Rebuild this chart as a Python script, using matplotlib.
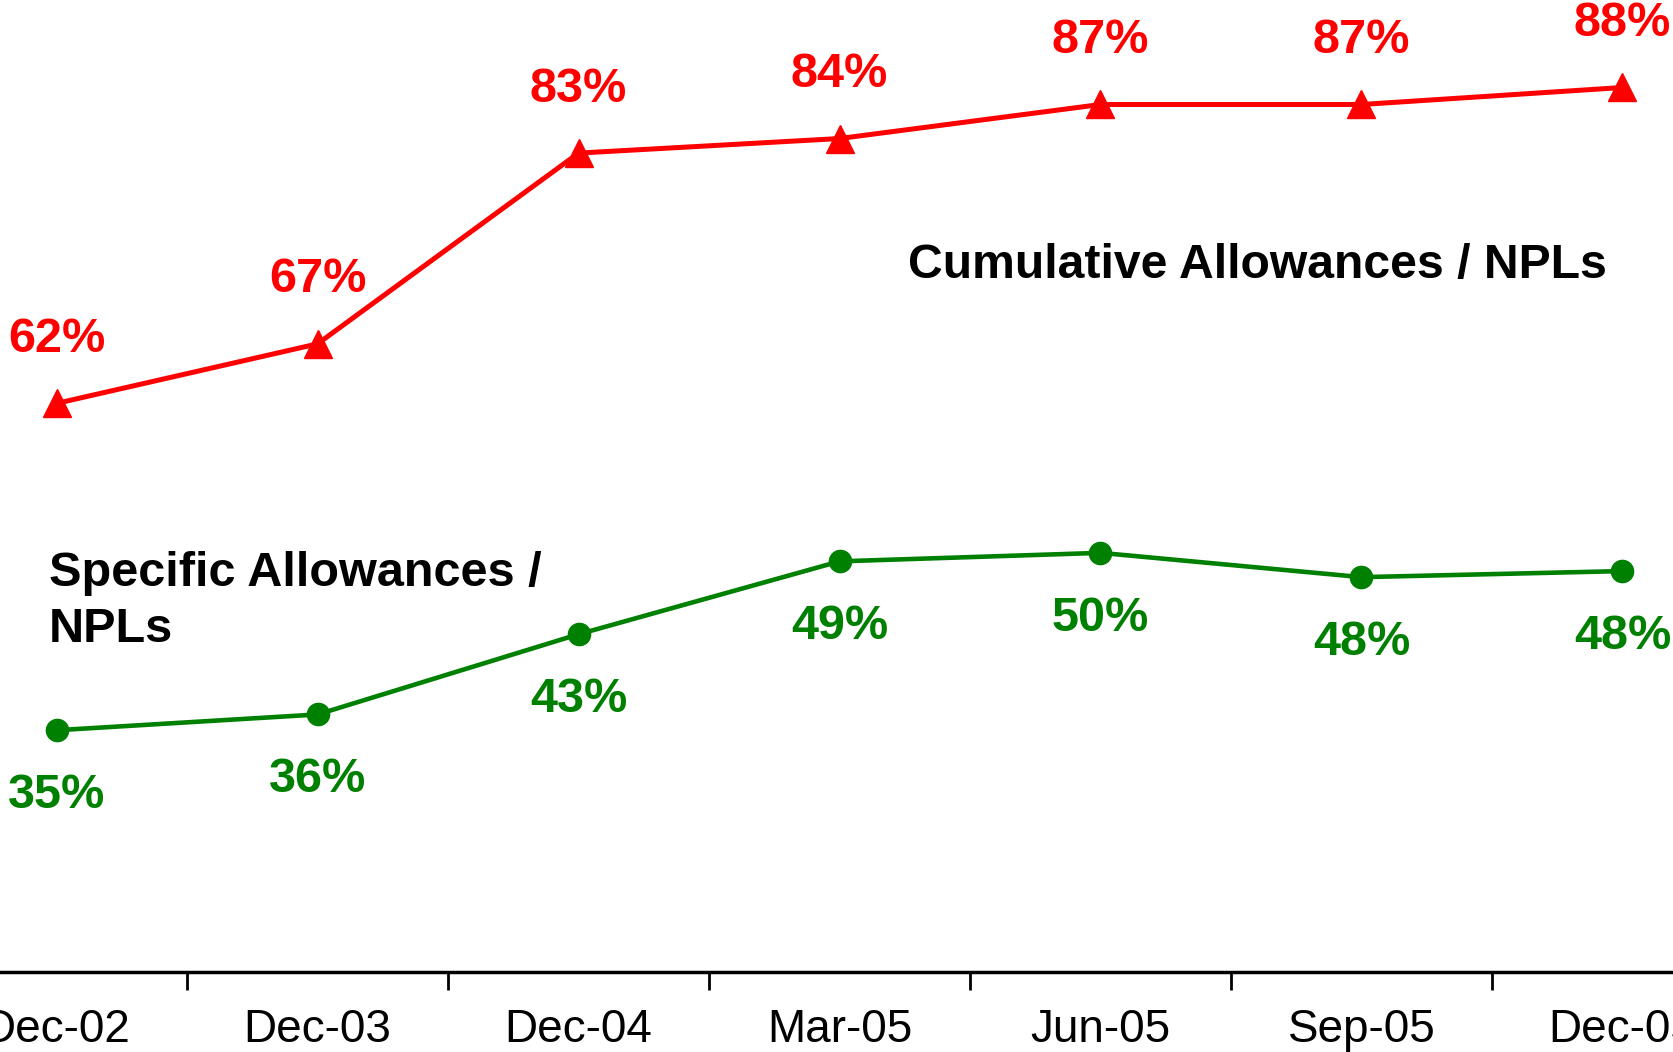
import matplotlib
matplotlib.use("Agg")
import matplotlib.pyplot as plt
from matplotlib.ticker import FixedLocator

categories = ["Dec-02", "Dec-03", "Dec-04", "Mar-05", "Jun-05", "Sep-05", "Dec-05"]
cumulative = [62.0, 66.9, 82.6, 83.8, 86.6, 86.6, 88.0]
specific = [35.1, 36.4, 43.0, 49.0, 49.7, 47.7, 48.2]
cum_label = "Cumulative Allowances / NPLs"
spec_label = "Specific Allowances /\nNPLs"

plt.rcParams['font.family'] = ['Liberation Sans', 'DejaVu Sans']

fig = plt.figure(figsize=(16.73, 10.52), dpi=100)
ax = fig.add_axes([-0.0442, 0.076, 1.092, 0.924])

x = list(range(len(categories)))
red = "#FF0000"
green = "#008000"

ax.plot(x, cumulative, color=red, lw=3.6, marker="^", ms=20, zorder=3, clip_on=False)
ax.plot(x, specific, color=green, lw=3.3, marker="o", ms=16, zorder=3, clip_on=False)

for xi, v in zip(x, cumulative):
    ax.annotate(f"{v:.0f}%", (xi, v), xytext=(0, 46), textcoords="offset points",
                ha="center", va="center", color=red, fontsize=35, fontweight="bold",
                annotation_clip=False)
for xi, v in zip(x, specific):
    ax.annotate(f"{v:.0f}%", (xi, v), xytext=(0, -47), textcoords="offset points",
                ha="center", va="center", color=green, fontsize=35, fontweight="bold",
                annotation_clip=False)

ax.text(0.543, 0.748, cum_label, transform=fig.transFigure, ha="left", va="center",
        fontsize=34.7, fontweight="bold", color="black")
ax.text(0.029, 0.428, spec_label, transform=fig.transFigure, ha="left", va="center",
        fontsize=35, fontweight="bold", color="black", linespacing=1.3)

ax.set_xlim(-0.5, len(categories) - 0.5)
ax.set_ylim(15.2, 95.2)
ax.set_xticks(x)
ax.set_xticklabels(categories, fontsize=33)
ax.xaxis.set_minor_locator(FixedLocator([i + 0.5 for i in range(len(categories) - 1)]))
ax.tick_params(axis="x", which="major", length=0, pad=26)
ax.tick_params(axis="x", which="minor", length=13, width=2, direction="out")
ax.set_yticks([])
for s in ["left", "right", "top"]:
    ax.spines[s].set_visible(False)
ax.spines["bottom"].set_linewidth(2.5)

fig.savefig("out.png", dpi=100)
